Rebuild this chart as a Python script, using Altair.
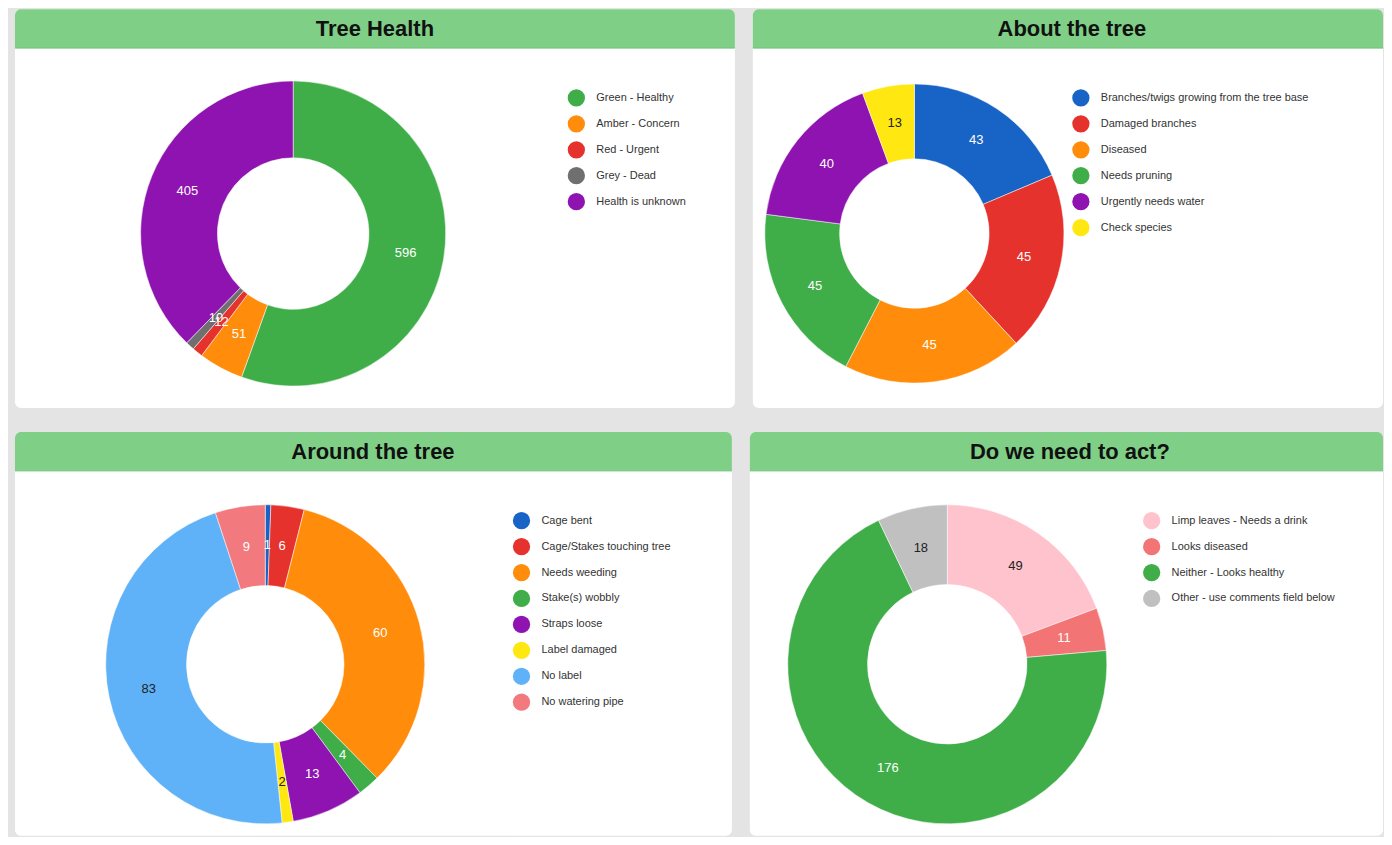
import altair as alt
import pandas as pd

# ---------- data ----------
health_cats = ["Green - Healthy", "Amber - Concern", "Red - Urgent", "Grey - Dead", "Health is unknown"]
health_vals = [596, 51, 12, 10, 405]
health_cols = ["#3fae49", "#ff8c0a", "#e5322d", "#6f6f6f", "#8e13b0"]
health_txt = ["white", "white", "white", "white", "white"]

about_cats = ["Branches/twigs growing from the tree base", "Damaged branches", "Diseased",
              "Needs pruning", "Urgently needs water", "Check species"]
about_vals = [43, 45, 45, 45, 40, 13]
about_cols = ["#1763c6", "#e5322d", "#ff8c0a", "#3fae49", "#8e13b0", "#ffe811"]
about_txt = ["white", "white", "white", "white", "white", "#222222"]

around_cats = ["Cage bent", "Cage/Stakes touching tree", "Needs weeding", "Stake(s) wobbly",
               "Straps loose", "Label damaged", "No label", "No watering pipe"]
around_vals = [1, 6, 60, 4, 13, 2, 83, 9]
around_cols = ["#1763c6", "#e5322d", "#ff8c0a", "#3fae49", "#8e13b0", "#ffe811", "#5fb2f7", "#f27a7e"]
around_txt = ["white", "white", "white", "white", "white", "#222222", "#222222", "white"]

act_cats = ["Limp leaves - Needs a drink", "Looks diseased", "Neither - Looks healthy",
            "Other - use comments field below"]
act_vals = [49, 11, 176, 18]
act_cols = ["#ffc3cd", "#f27474", "#3fae49", "#c0c0c0"]
act_txt = ["#222222", "white", "white", "#222222"]

HEADER_GREEN = "#7fcf87"
BG = "#e4e4e4"
FONT = "Liberation Sans"


def panel(title, cats, vals, cols, txt, W, H, cx, cy, r_out, r_in, lx, ly, tx):
    df = pd.DataFrame({"cat": cats, "value": vals, "i": list(range(len(cats))), "tc": txt})
    hdr = pd.DataFrame({"t": [title]})

    header = alt.Chart(hdr).mark_rect(
        color=HEADER_GREEN, cornerRadiusTopLeft=6, cornerRadiusTopRight=6
    ).encode(x=alt.value(0), x2=alt.value(W), y=alt.value(0), y2=alt.value(39))

    header_line = alt.Chart(hdr).mark_rule(color="#6fbf77", strokeWidth=1).encode(
        x=alt.value(0), x2=alt.value(W), y=alt.value(39))

    htext = alt.Chart(hdr).mark_text(
        font=FONT, fontSize=22, fontWeight="bold", color="#111111", align="center", baseline="middle"
    ).encode(text="t:N", x=alt.value(tx), y=alt.value(20))

    base = alt.Chart(df).encode(
        theta=alt.Theta("value:Q", stack=True),
        order=alt.Order("i:Q"),
        x=alt.value(cx),
        y=alt.value(cy),
    )
    arcs = base.mark_arc(innerRadius=r_in, outerRadius=r_out, stroke="white", strokeWidth=0.5).encode(
        color=alt.Color(
            "cat:N",
            scale=alt.Scale(domain=cats, range=cols),
            sort=cats,
            legend=alt.Legend(
                title=None, orient="none", legendX=lx, legendY=ly,
                symbolType="circle", symbolSize=300, symbolStrokeWidth=0,
                labelFont=FONT, labelFontSize=11, labelColor="#333333",
                rowPadding=8, labelOffset=11, padding=0, labelLimit=400,
            ),
        )
    )
    labels = base.mark_text(
        radius=(r_in + r_out) / 2, font=FONT, fontSize=13, align="center", baseline="middle"
    ).encode(text="value:Q", fill=alt.Fill("tc:N", scale=None))

    return alt.layer(header, header_line, htext, arcs, labels).properties(width=W, height=H)


p1 = panel("Tree Health", health_cats, health_vals, health_cols, health_txt,
           722, 400, 279, 225, 153, 76, 554, 80, 361)
p2 = panel("About the tree", about_cats, about_vals, about_cols, about_txt,
           632, 400, 162, 225, 150, 75, 320, 80, 320)
p3 = panel("Around the tree", around_cats, around_vals, around_cols, around_txt,
           719, 405, 251, 233, 160, 79, 499, 80, 359)
p4 = panel("Do we need to act?", act_cats, act_vals, act_cols, act_txt,
           635, 405, 198, 233, 160, 80, 394, 80, 321)

row1 = alt.hconcat(p1, p2, spacing=16).resolve_scale(color="independent").resolve_legend(color="independent")
row2 = alt.hconcat(p3, p4, spacing=16).resolve_scale(color="independent").resolve_legend(color="independent")

chart = alt.vconcat(row1, row2, spacing=24).resolve_scale(color="independent").resolve_legend(
    color="independent"
).properties(
    background=BG,
    padding={"left": 6, "top": 0, "right": 0, "bottom": 0},
).configure_view(
    fill="white", stroke=None, cornerRadius=6
)

chart.save("out.html", embed_options={"renderer": "svg", "actions": False})
